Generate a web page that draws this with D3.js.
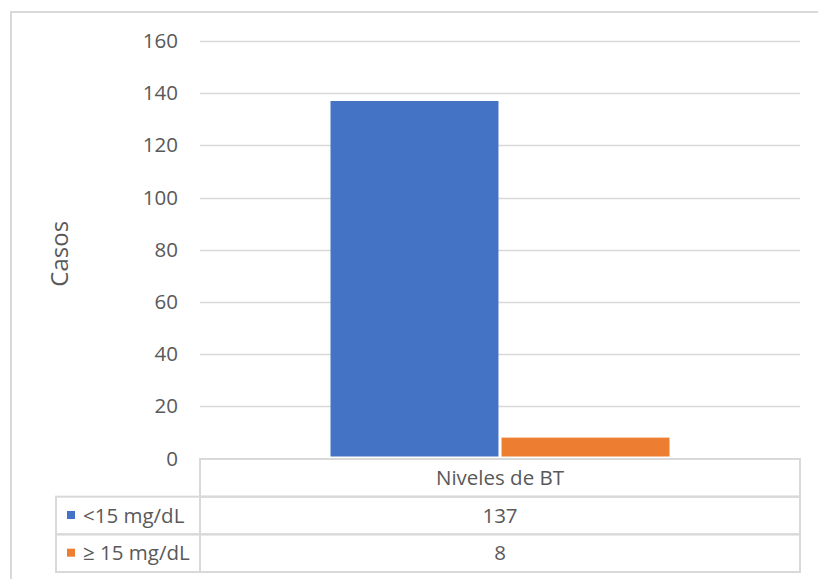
<!DOCTYPE html>
<html>
<head>
<meta charset="utf-8">
<script src="https://cdn.jsdelivr.net/npm/d3@7"></script>
<style>
  html, body { margin: 0; padding: 0; background: #fff; }
  svg { display: block; font-family: "Open Sans", sans-serif; }
</style>
</head>
<body>
<svg id="chart" width="818" height="579"></svg>
<script>
// ---- data ----
const categories = ["Niveles de BT"];
const seriesNames = ["<15 mg/dL", "\u2265 15 mg/dL"];
const seriesValues = [[137], [8]];
const seriesColors = ["#4472C4", "#ED7D31"];
const yTicks = [0, 20, 40, 60, 80, 100, 120, 140, 160];
const yTitle = "Casos";

const svg = d3.select("#chart");
const textColor = "#595959";
const gridColor = "#D9D9D9";

// outer chart border
svg.append("rect")
  .attr("x", 11).attr("y", 12)
  .attr("width", 830).attr("height", 600)
  .attr("fill", "none").attr("stroke", gridColor).attr("stroke-width", 2);

const plotLeft = 200, plotRight = 800, plotTop = 41, plotBottom = 458.5;

const y = d3.scaleLinear().domain([0, 160]).range([plotBottom, plotTop]);
const x0 = d3.scaleBand().domain(categories).range([plotLeft, plotRight])
  .paddingInner(0).paddingOuter(0.385);
const x1 = d3.scaleBand().domain(seriesNames).range([0, x0.bandwidth()])
  .paddingInner(0.018).paddingOuter(0);

// gridlines
svg.append("g").selectAll("line")
  .data(yTicks.filter(d => d !== 0))
  .join("line")
  .attr("x1", plotLeft).attr("x2", plotRight)
  .attr("y1", d => Math.round(y(d)) + 0.5).attr("y2", d => Math.round(y(d)) + 0.5)
  .attr("stroke", gridColor).attr("stroke-width", 1.5);

// y axis labels via d3 axis
const yAxis = svg.append("g")
  .attr("transform", `translate(${plotLeft - 22},0)`)
  .call(d3.axisLeft(y).tickValues(yTicks).tickSize(0).tickPadding(0));
yAxis.select(".domain").remove();
yAxis.selectAll("text")
  .attr("fill", textColor)
  .style("font-family", "'Open Sans', sans-serif")
  .style("font-size", "20.5px");

// y title
svg.append("text")
  .attr("transform", `translate(68,${(plotTop + plotBottom) / 2 + 4}) rotate(-90)`)
  .attr("text-anchor", "middle")
  .attr("fill", textColor)
  .style("font-size", "24px")
  .text(yTitle);

// bars
const gCat = svg.append("g").selectAll("g")
  .data(categories)
  .join("g")
  .attr("transform", d => `translate(${x0(d)},0)`);
gCat.selectAll("rect")
  .data((d, ci) => seriesNames.map((s, si) => ({ s, v: seriesValues[si][ci], c: seriesColors[si] })))
  .join("rect")
  .attr("x", d => x1(d.s))
  .attr("width", x1.bandwidth())
  .attr("y", d => y(d.v))
  .attr("height", d => y(0) - y(d.v) - 2)
  .attr("fill", d => d.c);

// data table
const tableLeft = 56, colSplit = plotLeft, tableTop = 459;
const rowY = d3.scaleBand().domain(["header", ...seriesNames]).range([tableTop, 572]);
const tg = svg.append("g").attr("stroke", gridColor).attr("stroke-width", 2).attr("fill", "none");
tg.append("rect").attr("x", colSplit).attr("y", rowY("header"))
  .attr("width", plotRight - colSplit).attr("height", rowY.bandwidth());
seriesNames.forEach(s => {
  tg.append("rect").attr("x", tableLeft).attr("y", rowY(s))
    .attr("width", plotRight - tableLeft).attr("height", rowY.bandwidth());
  tg.append("line").attr("x1", colSplit).attr("x2", colSplit)
    .attr("y1", rowY(s)).attr("y2", rowY(s) + rowY.bandwidth());
});

// header text
svg.append("g").selectAll("text")
  .data(categories)
  .join("text")
  .attr("x", d => x0(d) + x0.bandwidth() / 2)
  .attr("y", rowY("header") + rowY.bandwidth() / 2)
  .attr("dy", "0.35em")
  .attr("text-anchor", "middle")
  .attr("fill", textColor)
  .style("font-size", "20.5px")
  .text(d => d);

// row labels + legend keys + values
seriesNames.forEach((s, si) => {
  const cy = rowY(s) + rowY.bandwidth() / 2;
  svg.append("rect")
    .attr("x", 67).attr("y", cy - 4.5)
    .attr("width", 8).attr("height", 8)
    .attr("fill", seriesColors[si]);
  svg.append("text")
    .attr("x", 83).attr("y", cy).attr("dy", "0.35em")
    .attr("fill", textColor)
    .style("font-size", "20.5px")
    .text(s);
  categories.forEach((c, ci) => {
    svg.append("text")
      .attr("x", x0(c) + x0.bandwidth() / 2)
      .attr("y", cy).attr("dy", "0.35em")
      .attr("text-anchor", "middle")
      .attr("fill", textColor)
      .style("font-size", "20.5px")
      .text(seriesValues[si][ci]);
  });
});
</script>
</body>
</html>
